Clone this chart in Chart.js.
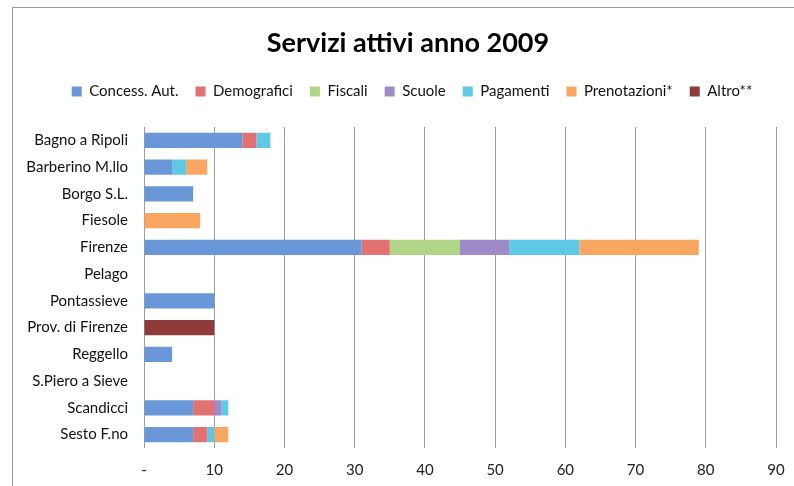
<!DOCTYPE html>
<html>
<head>
<meta charset="utf-8">
<script src="https://cdn.jsdelivr.net/npm/chart.js@4.4.1/dist/chart.umd.min.js"></script>
<style>
  html, body { margin: 0; padding: 0; background: #fff; }
  #wrap { position: relative; width: 794px; height: 486px; overflow: hidden; }
  #frame { position: absolute; left: 12px; top: 7px; width: 900px; height: 600px;
           border-top: 1.5px solid #9a9a9a; border-left: 1.5px solid #9a9a9a; pointer-events: none; }
  canvas { position: absolute; left: 0; top: 0; }
</style>
</head>
<body>
<div id="wrap">
  <canvas id="c" width="794" height="486"></canvas>
  <div id="frame"></div>
</div>
<script>
const categories = ['Bagno a Ripoli','Barberino M.llo','Borgo S.L.','Fiesole','Firenze','Pelago','Pontassieve','Prov. di Firenze','Reggello','S.Piero a Sieve','Scandicci','Sesto F.no'];
const concessAut   = [14, 4, 7, 0, 31, 0, 10, 0, 4, 0, 7, 7];
const demografici  = [ 2, 0, 0, 0,  4, 0,  0, 0, 0, 0, 3, 2];
const fiscali      = [ 0, 0, 0, 0, 10, 0,  0, 0, 0, 0, 0, 0];
const scuole       = [ 0, 0, 0, 0,  7, 0,  0, 0, 0, 0, 1, 0];
const pagamenti    = [ 2, 2, 0, 0, 10, 0,  0, 0, 0, 0, 1, 1];
const prenotazioni = [ 0, 3, 0, 8, 17, 0,  0, 0, 0, 0, 0, 2];
const altro        = [ 0, 0, 0, 0,  0, 0,  0,10, 0, 0, 0, 0];
const seriesNames  = ['Concess. Aut.','Demografici','Fiscali','Scuole','Pagamenti','Prenotazioni*','Altro**'];
const xTickValues  = [0,10,20,30,40,50,60,70,80,90];
const xTickLabels  = ['-','10','20','30','40','50','60','70','80','90'];
const titleText    = 'Servizi attivi anno 2009';

const colors = ['#6a97d8','#e27272','#afd585','#9e8bc9','#5fc8e4','#f9a660','#8e3b39'];
const seriesData = [concessAut, demografici, fiscali, scuole, pagamenti, prenotazioni, altro];

const layoutTweaks = {
  id: 'layoutTweaks',
  beforeInit(chart) {
    const orig = chart.legend.fit;
    chart.legend.fit = function () {
      orig.bind(chart.legend)();
      this.height = 60;
    };
  },
  afterLayout(chart) {
    const t = chart.titleBlock;
    if (t) { t.left += 14; t.right += 14; }
    const l = chart.legend;
    if (l) { l.left += 18; l.right += 18; }
  }
};

const FONT = 'Lato, "Open Sans", sans-serif';

new Chart(document.getElementById('c'), {
  type: 'bar',
  data: {
    labels: categories,
    datasets: seriesNames.map((n, i) => ({
      label: n,
      data: seriesData[i],
      backgroundColor: colors[i],
      borderWidth: 0,
      categoryPercentage: 1.0,
      barPercentage: 0.57
    }))
  },
  options: {
    indexAxis: 'y',
    responsive: false,
    animation: false,
    layout: { padding: { left: 12, right: 18, top: 0, bottom: 8 } },
    plugins: {
      title: {
        display: true,
        text: titleText,
        color: '#000',
        font: { family: FONT, size: 27, weight: 'bold' },
        padding: { top: 27, bottom: 7.6 }
      },
      legend: {
        position: 'top',
        labels: {
          boxWidth: 10,
          boxHeight: 10,
          padding: 17,
          color: '#111',
          font: { family: FONT, size: 15 }
        }
      },
      tooltip: { enabled: false }
    },
    scales: {
      x: {
        stacked: true,
        min: 0,
        max: 90,
        afterBuildTicks(scale) { scale.ticks = xTickValues.map(v => ({ value: v })); },
        afterFit(scale) { scale.height = 30; scale.paddingLeft = 0; scale.paddingRight = 0; },
        ticks: {
          color: '#222',
          font: { family: FONT, size: 15 },
          padding: 13,
          callback(v) { const i = xTickValues.indexOf(v); return i >= 0 ? xTickLabels[i] : ''; }
        },
        grid: { color: '#9c9c9c', lineWidth: 1, drawTicks: false, tickLength: 0 },
        border: { display: false }
      },
      y: {
        stacked: true,
        afterFit(scale) { scale.width = 132; },
        ticks: {
          color: '#111',
          font: { family: FONT, size: 15 },
          padding: 16
        },
        grid: { display: false, drawTicks: false, tickLength: 0 },
        border: { display: false }
      }
    }
  },
  plugins: [layoutTweaks]
});
</script>
</body>
</html>
